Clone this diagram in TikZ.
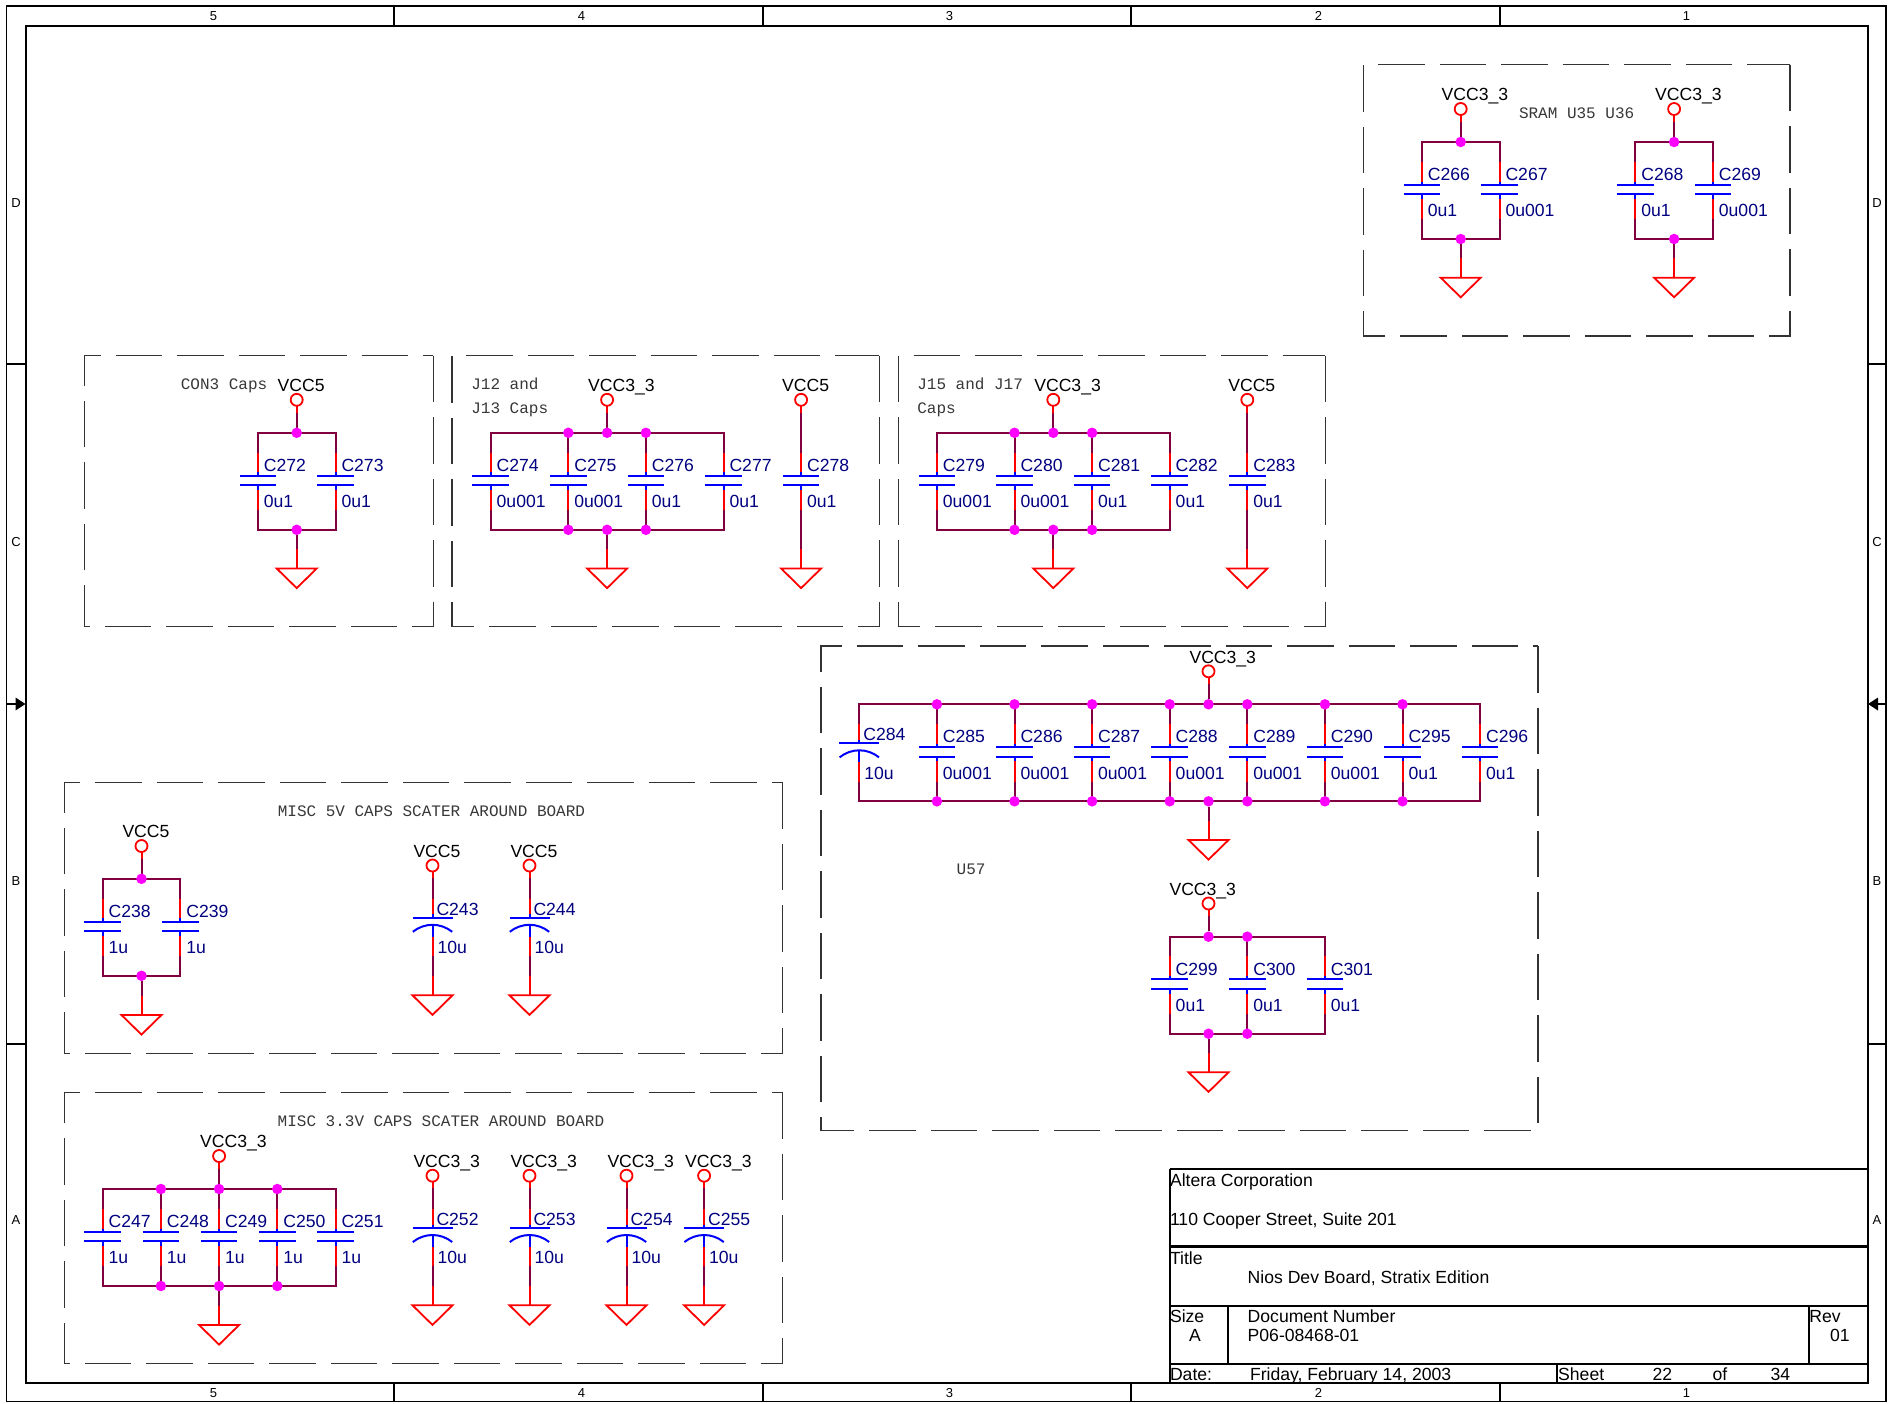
\documentclass[tikz,border=0pt]{standalone}
\usepackage{fontspec}
\setmainfont{Liberation Sans}
\setmonofont{Liberation Mono}
\definecolor{wirec}{HTML}{800040}
\definecolor{navyc}{HTML}{000080}
\definecolor{magc}{HTML}{FF00FF}
\definecolor{notec}{HTML}{383838}
\pgfdeclarelayer{fg}
\pgfsetlayers{main,fg}
\tikzset{
  wire/.style={draw=wirec,line width=2pt,line cap=rect},
  pinred/.style={draw=red,line width=2pt},
  pinblue/.style={draw=blue,line width=2pt},
  plate/.style={draw=blue,line width=2pt},
  jdot/.style={circle,fill=magc,draw=none,minimum size=10.5pt,inner sep=0pt,outer sep=0pt},
  porto/.style={circle,draw=red,line width=1.8pt,fill=white,minimum size=12pt,inner sep=0pt,outer sep=0pt},
  reflab/.style={anchor=base west,inner sep=0pt,outer sep=0pt,text=navyc,font=\fontsize{17.6}{20}\selectfont},
  netlab/.style={anchor=base west,inner sep=0pt,outer sep=0pt,text=black,font=\fontsize{17.6}{20}\selectfont},
  titlab/.style={anchor=base west,inner sep=0pt,outer sep=0pt,text=black,font=\fontsize{17.6}{20}\selectfont},
  notelab/.style={anchor=base west,inner sep=0pt,outer sep=0pt,text=notec,font=\ttfamily\fontsize{16}{18}\selectfont},
  borderlab/.style={anchor=center,inner sep=0pt,outer sep=0pt,text=black,font=\fontsize{13}{15}\selectfont},
  dashbox/.style={draw=black!80,line width=1.2pt,dash pattern=on 46.5pt off 15pt},
  frameo/.style={draw=black,line width=1.5pt},
  framei/.style={draw=black,line width=2pt},
  titleln/.style={draw=black,line width=2.2pt},
}
% non-polar capacitor: name, x, wire top, value
\newcommand{\capn}[4]{%
  \coordinate (#1t) at ({#2},{#3});
  \coordinate (#1a) at ({#2},{#3+19.7});
  \coordinate (#1c) at ({#2},{#3+39.5});
  \coordinate (#1p) at ({#2},{#3+42.7});
  \coordinate (#1q) at ({#2},{#3+52.3});
  \coordinate (#1d) at ({#2},{#3+57});
  \coordinate (#1e) at ({#2},{#3+77.3});
  \coordinate (#1b) at ({#2},{#3+97});
  \draw[wire,line cap=butt] (#1t) -- (#1a);
  \draw[pinred] (#1a) -- (#1c);
  \draw[pinblue] (#1c) -- (#1p);
  \draw[plate] ([xshift=-18.3pt]#1p) -- ([xshift=18.3pt]#1p);
  \draw[plate] ([xshift=-18.3pt]#1q) -- ([xshift=18.3pt]#1q);
  \draw[pinblue] (#1q) -- (#1d);
  \draw[pinred] (#1d) -- (#1e);
  \draw[wire,line cap=butt] (#1e) -- (#1b);
  \node[reflab] (#1) at ({#2+6},{#3+38.3}) {#1};
  \node[reflab] (#1v) at ({#2+6},{#3+74.7}) {#4};
}
% polarised capacitor: name, x, wire top, value
\newcommand{\capp}[4]{%
  \coordinate (#1t) at ({#2},{#3});
  \coordinate (#1a) at ({#2},{#3+19.7});
  \coordinate (#1c) at ({#2},{#3+35.5});
  \coordinate (#1p) at ({#2},{#3+38.7});
  \coordinate (#1q) at ({#2},{#3+46});
  \coordinate (#1d) at ({#2},{#3+58});
  \coordinate (#1e) at ({#2},{#3+77.3});
  \coordinate (#1b) at ({#2},{#3+97});
  \draw[wire,line cap=butt] (#1t) -- (#1a);
  \draw[pinred] (#1a) -- (#1c);
  \draw[pinblue] (#1c) -- (#1p);
  \draw[plate] ([xshift=-20pt]#1p) -- ([xshift=20pt]#1p);
  \draw[plate] ([xshift=-19.7pt,yshift=-7pt]#1q) .. controls ([xshift=-8pt,yshift=2.33pt]#1q) and ([xshift=8pt,yshift=2.33pt]#1q) .. ([xshift=19.7pt,yshift=-7pt]#1q);
  \draw[pinblue] (#1q) -- (#1d);
  \draw[pinred] (#1d) -- (#1e);
  \draw[wire,line cap=butt] (#1e) -- (#1b);
  \node[reflab] (#1) at ({#2+4},{#3+36.3}) {#1};
  \node[reflab] (#1v) at ({#2+5},{#3+74.7}) {#4};
}
% junction dot: name, x, y
\newcommand{\jn}[3]{%
  \begin{pgfonlayer}{fg}\node[jdot] (#1) at ({#2},{#3}) {};\end{pgfonlayer}
}
% power port: name, x, circle y, label, label offset, target
\newcommand{\pwr}[6]{%
  \node[porto] (#1) at ({#2},{#3}) {};
  \coordinate (#1m) at ({#2},{#3+12.7});
  \node[netlab] (#1l) at ({#2+#5},{#3-8.3}) {#4};
  \draw[pinred] (#1) -- (#1m);
  \draw[wire,line cap=butt] (#1m) -- (#6);
}
% ground: name, x, triangle top y, source
\newcommand{\gnd}[4]{%
  \coordinate (#1) at ({#2},{#3});
  \coordinate (#1m) at ({#2},{#3-19.5});
  \draw[wire,line cap=butt] (#4) -- (#1m);
  \draw[pinred] (#1m) -- (#1);
  \draw[draw=red,line width=1.8pt,line join=miter] ({#2-20},{#3}) -- ({#2+20},{#3}) -- ({#2},{#3+19.6}) -- cycle;
}
% dashed box starting at top right, clockwise: left, top, right, bottom
\newcommand{\dbox}[4]{%
  \draw[dashbox] ({#3},{#2}) -- ({#3},{#4}) -- ({#1},{#4}) -- ({#1},{#2}) -- cycle;
}
\begin{document}
\begin{tikzpicture}[x=1pt,y=-1pt]
\useasboundingbox (0,0) rectangle (1890,1403);
\fill[white] (0,0) rectangle (1890,1403);
% ---- frame
\draw[frameo] (6.5,6) rectangle (1886,1401.5);
\draw[framei] (25.5,25.5) rectangle (1868,1383);
\foreach \xx in {394,762.5,1131,1499.5}{
  \draw[framei] (\xx,6) -- (\xx,25.5);
  \draw[framei] (\xx,1383) -- (\xx,1401.5);
}
\foreach \yy in {364,1044}{
  \draw[framei] (6.5,\yy) -- (25.5,\yy);
  \draw[framei] (1868,\yy) -- (1886,\yy);
}
\draw[framei] (6.5,704) -- (17,704);
\fill[black] (25.5,704) -- (15.5,697.5) -- (15.5,710.5) -- cycle;
\draw[framei] (1886,704) -- (1877,704);
\fill[black] (1868,704) -- (1878,697.5) -- (1878,710.5) -- cycle;
\node[borderlab] (c5t) at (213.5,16) {5};
\node[borderlab] (c4t) at (581.5,16) {4};
\node[borderlab] (c3t) at (949.5,16) {3};
\node[borderlab] (c2t) at (1318.5,16) {2};
\node[borderlab] (c1t) at (1686.5,16) {1};
\node[borderlab] (c5b) at (213.5,1393) {5};
\node[borderlab] (c4b) at (581.5,1393) {4};
\node[borderlab] (c3b) at (949.5,1393) {3};
\node[borderlab] (c2b) at (1318.5,1393) {2};
\node[borderlab] (c1b) at (1686.5,1393) {1};
\node[borderlab] (rDl) at (16,203.5) {D};
\node[borderlab] (rCl) at (16,542) {C};
\node[borderlab] (rBl) at (16,881) {B};
\node[borderlab] (rAl) at (16,1220) {A};
\node[borderlab] (rDr) at (1877,203.5) {D};
\node[borderlab] (rCr) at (1877,542) {C};
\node[borderlab] (rBr) at (1877,881) {B};
\node[borderlab] (rAr) at (1877,1220) {A};
% ---- title block
\draw[titleln] (1169.7,1169.3) -- (1868,1169.3);
\draw[titleln,line width=3pt] (1169.7,1246.7) -- (1868,1246.7);
\draw[titleln] (1169.7,1305.7) -- (1868,1305.7);
\draw[titleln] (1169.7,1364) -- (1868,1364);
\draw[titleln] (1169.7,1169.3) -- (1169.7,1383);
\draw[titleln] (1228,1305.7) -- (1228,1364);
\draw[titleln] (1809.3,1305.7) -- (1809.3,1364);
\draw[titleln] (1556.8,1364) -- (1556.8,1383);
\node[titlab] (tb1) at (1170,1186) {Altera Corporation};
\node[titlab] (tb2) at (1170,1225.3) {110 Cooper Street, Suite 201};
\node[titlab] (tb3) at (1170,1264) {Title};
\node[titlab] (tb4) at (1247.7,1283) {Nios Dev Board, Stratix Edition};
\node[titlab] (tb5) at (1170,1322) {Size};
\node[titlab] (tb6) at (1189,1341) {A};
\node[titlab] (tb7) at (1247.7,1322) {Document Number};
\node[titlab] (tb8) at (1247.7,1341) {P06-08468-01};
\node[titlab] (tb9) at (1809.3,1322) {Rev};
\node[titlab] (tb10) at (1830,1341) {01};
\node[titlab] (tb11) at (1170,1380.3) {Date:};
\node[titlab] (tb12) at (1250,1380.3) {Friday, February 14, 2003};
\node[titlab] (tb13) at (1558.2,1380.3) {Sheet};
\node[titlab] (tb14) at (1652.6,1380.3) {22};
\node[titlab] (tb15) at (1712.5,1380.3) {of};
\node[titlab] (tb16) at (1770.6,1380.3) {34};
% ---- dashed boxes
\dbox{1363.5}{64.5}{1790}{336}
\dbox{84.4}{355.6}{433.3}{626.8}
\dbox{452}{355.6}{879.4}{626.8}
\dbox{898.6}{355.6}{1325.3}{626.8}
\dbox{821}{646}{1538}{1130.7}
\dbox{64.3}{782.3}{782.3}{1053.5}
\dbox{64.3}{1092.3}{782.3}{1363.7}
% ---- notes
\node[notelab] (n1) at (1519,118.2) {SRAM U35 U36};
\node[notelab] (n2) at (180.8,389.5) {CON3 Caps};
\node[notelab] (n3) at (471.3,389.5) {J12 and};
\node[notelab] (n4) at (471.3,413.5) {J13 Caps};
\node[notelab] (n5) at (917.3,389.5) {J15 and J17};
\node[notelab] (n6) at (917.3,413.5) {Caps};
\node[notelab] (n7) at (277.8,816.5) {MISC 5V CAPS SCATER AROUND BOARD};
\node[notelab] (n8) at (277.7,1126.8) {MISC 3.3V CAPS SCATER AROUND BOARD};
\node[notelab] (n9) at (956.7,874.5) {U57};
% ---- SRAM
\capn{C266}{1421.9}{142}{0u1}
\capn{C267}{1499.5}{142}{0u001}
\draw[wire] (C266t) -- (C267t);
\draw[wire] (C266b) -- (C267b);
\jn{J1}{1460.7}{142}
\jn{J2}{1460.7}{239}
\pwr{P1}{1460.7}{109}{VCC3\_3}{-19}{J1}
\gnd{G1}{1460.7}{277.7}{J2}
\capn{C268}{1635.3}{142}{0u1}
\capn{C269}{1712.9}{142}{0u001}
\draw[wire] (C268t) -- (C269t);
\draw[wire] (C268b) -- (C269b);
\jn{J3}{1674.1}{142}
\jn{J4}{1674.1}{239}
\pwr{P2}{1674.1}{109}{VCC3\_3}{-19}{J3}
\gnd{G2}{1674.1}{277.7}{J4}
% ---- CON3
\capn{C272}{257.9}{432.8}{0u1}
\capn{C273}{335.5}{432.8}{0u1}
\draw[wire] (C272t) -- (C273t);
\draw[wire] (C272b) -- (C273b);
\jn{J5}{296.7}{432.8}
\jn{J6}{296.7}{529.8}
\pwr{P3}{296.7}{399.8}{VCC5}{-19}{J5}
\gnd{G3}{296.7}{568.5}{J6}
% ---- J12/J13
\capn{C274}{490.7}{432.8}{0u001}
\capn{C275}{568.3}{432.8}{0u001}
\capn{C276}{645.9}{432.8}{0u1}
\capn{C277}{723.5}{432.8}{0u1}
\draw[wire] (C274t) -- (C277t);
\draw[wire] (C274b) -- (C277b);
\jn{J7}{568.3}{432.8}
\jn{J8}{607.1}{432.8}
\jn{J9}{645.9}{432.8}
\jn{J10}{568.3}{529.8}
\jn{J11}{607.1}{529.8}
\jn{J12}{645.9}{529.8}
\pwr{P4}{607.1}{399.8}{VCC3\_3}{-19}{J8}
\gnd{G4}{607.1}{568.5}{J11}
\capn{C278}{801.1}{432.8}{0u1}
\pwr{P5}{801.1}{399.8}{VCC5}{-19}{C278t}
\gnd{G5}{801.1}{568.5}{C278b}
% ---- J15/J17
\capn{C279}{936.9}{432.8}{0u001}
\capn{C280}{1014.5}{432.8}{0u001}
\capn{C281}{1092.1}{432.8}{0u1}
\capn{C282}{1169.7}{432.8}{0u1}
\draw[wire] (C279t) -- (C282t);
\draw[wire] (C279b) -- (C282b);
\jn{J13}{1014.5}{432.8}
\jn{J14}{1053.3}{432.8}
\jn{J15}{1092.1}{432.8}
\jn{J16}{1014.5}{529.8}
\jn{J17}{1053.3}{529.8}
\jn{J18}{1092.1}{529.8}
\pwr{P6}{1053.3}{399.8}{VCC3\_3}{-19}{J14}
\gnd{G6}{1053.3}{568.5}{J17}
\capn{C283}{1247.3}{432.8}{0u1}
\pwr{P7}{1247.3}{399.8}{VCC5}{-19}{C283t}
\gnd{G7}{1247.3}{568.5}{C283b}
% ---- U57 upper
\capp{C284}{859.3}{704.3}{10u}
\capn{C285}{936.9}{704.3}{0u001}
\capn{C286}{1014.5}{704.3}{0u001}
\capn{C287}{1092.1}{704.3}{0u001}
\capn{C288}{1169.7}{704.3}{0u001}
\capn{C289}{1247.3}{704.3}{0u001}
\capn{C290}{1324.9}{704.3}{0u001}
\capn{C295}{1402.5}{704.3}{0u1}
\capn{C296}{1480.1}{704.3}{0u1}
\draw[wire] (C284t) -- (C296t);
\draw[wire] (C284b) -- (C296b);
\foreach \xx/\nn in {936.9/a,1014.5/b,1092.1/c,1169.7/d,1208.5/e,1247.3/f,1324.9/g,1402.5/h}{
  \jn{JT\nn}{\xx}{704.3}
  \jn{JB\nn}{\xx}{801.3}
}
\pwr{P8}{1208.5}{671.3}{VCC3\_3}{-19}{JTe}
\gnd{G8}{1208.5}{840}{JBe}
% ---- U57 lower
\capn{C299}{1169.7}{936.7}{0u1}
\capn{C300}{1247.3}{936.7}{0u1}
\capn{C301}{1324.9}{936.7}{0u1}
\draw[wire] (C299t) -- (C301t);
\draw[wire] (C299b) -- (C301b);
\jn{J19}{1208.5}{936.7}
\jn{J20}{1247.3}{936.7}
\jn{J21}{1208.5}{1033.7}
\jn{J22}{1247.3}{1033.7}
\pwr{P9}{1208.5}{903.5}{VCC3\_3}{-39}{J19}
\gnd{G9}{1208.5}{1072.3}{J21}
% ---- MISC 5V
\capn{C238}{102.7}{878.8}{1u}
\capn{C239}{180.3}{878.8}{1u}
\draw[wire] (C238t) -- (C239t);
\draw[wire] (C238b) -- (C239b);
\jn{J23}{141.5}{878.8}
\jn{J24}{141.5}{975.8}
\pwr{P10}{141.5}{846}{VCC5}{-19}{J23}
\gnd{G10}{141.5}{1015}{J24}
\capp{C243}{432.5}{878.8}{10u}
\pwr{P11}{432.5}{865.5}{VCC5}{-19}{C243t}
\gnd{G11}{432.5}{995.3}{C243b}
\capp{C244}{529.5}{878.8}{10u}
\pwr{P12}{529.5}{865.5}{VCC5}{-19}{C244t}
\gnd{G12}{529.5}{995.3}{C244b}
% ---- MISC 3.3V
\capn{C247}{102.7}{1189}{1u}
\capn{C248}{160.9}{1189}{1u}
\capn{C249}{219.1}{1189}{1u}
\capn{C250}{277.3}{1189}{1u}
\capn{C251}{335.5}{1189}{1u}
\draw[wire] (C247t) -- (C251t);
\draw[wire] (C247b) -- (C251b);
\jn{J25}{160.9}{1189}
\jn{J26}{219.1}{1189}
\jn{J27}{277.3}{1189}
\jn{J28}{160.9}{1286}
\jn{J29}{219.1}{1286}
\jn{J30}{277.3}{1286}
\pwr{P13}{219.1}{1156}{VCC3\_3}{-19}{J26}
\gnd{G13}{219.1}{1325}{J29}
\capp{C252}{432.5}{1189}{10u}
\pwr{P14}{432.5}{1175.7}{VCC3\_3}{-19}{C252t}
\gnd{G14}{432.5}{1305.3}{C252b}
\capp{C253}{529.5}{1189}{10u}
\pwr{P15}{529.5}{1175.7}{VCC3\_3}{-19}{C253t}
\gnd{G15}{529.5}{1305.3}{C253b}
\capp{C254}{626.5}{1189}{10u}
\pwr{P16}{626.5}{1175.7}{VCC3\_3}{-19}{C254t}
\gnd{G16}{626.5}{1305.3}{C254b}
\capp{C255}{704.1}{1189}{10u}
\pwr{P17}{704.1}{1175.7}{VCC3\_3}{-19}{C255t}
\gnd{G17}{704.1}{1305.3}{C255b}
\end{tikzpicture}
\end{document}
